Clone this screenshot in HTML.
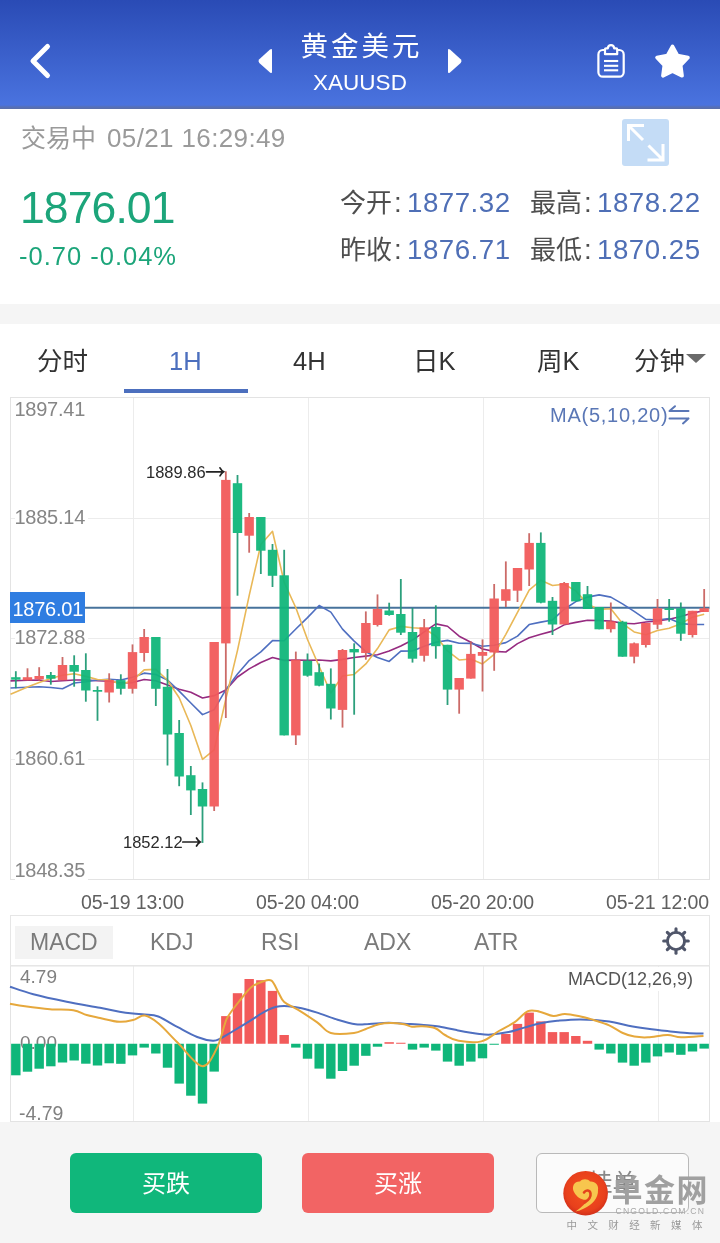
<!DOCTYPE html>
<html lang="zh-CN">
<head>
<meta charset="utf-8">
<title>黄金美元 XAUUSD</title>
<style>
*{margin:0;padding:0;box-sizing:border-box;}
html,body{width:720px;height:1243px;overflow:hidden;background:#fff;}
body{position:relative;font-family:"Liberation Sans","Noto Sans CJK SC",sans-serif;}
.a{position:absolute;white-space:nowrap;line-height:1;}
#hdr{position:absolute;left:0;top:0;width:720px;height:109px;background:linear-gradient(#2a4bb5 0px,#4a73df 105px,#5670b8 107px,#5a6ea8 109px);}
#hdr .t1{left:0;width:720px;text-align:center;top:32.9px;font-size:27.5px;letter-spacing:3px;text-indent:3px;color:#fff;}
#hdr .t2{left:0;width:720px;text-align:center;top:72px;font-size:22.5px;color:#fff;}
.grey{color:#9a9a9a;}
.lbl{color:#4e4e4e;}
.val{color:#4f6fb6;}
.tab{top:348.5px;font-size:25.5px;color:#333;}
.yl{font-size:20px;letter-spacing:-0.25px;color:#868686;background:#fff;padding-right:3px;}
.xl{font-size:19.5px;color:#606060;top:892.5px;letter-spacing:-0.1px;}
.mt{font-size:23px;color:#7a7a7a;top:931px;}
.btn{position:absolute;top:1153px;height:59.5px;border-radius:6px;color:#fff;font-size:24px;text-align:center;line-height:61px;}
</style>
</head>
<body>
<div id="hdr">
  <svg class="a" style="left:0;top:0" width="720" height="108" viewBox="0 0 720 108">
    <polyline points="47.5,46.5 33,61 47.5,75.5" fill="none" stroke="#fff" stroke-width="5" stroke-linecap="round" stroke-linejoin="round"/>
    <path d="M272,50.2 L272,71.8 Q272,73.8 270,72.4 L259.3,62.9 Q257.6,61 259.3,59.3 L270,49.6 Q272,48.2 272,50.2 Z" fill="#fff"/>
    <path d="M448,50.2 L448,71.8 Q448,73.8 450,72.4 L460.7,62.9 Q462.4,61 460.7,59.3 L450,49.6 Q448,48.2 448,50.2 Z" fill="#fff"/>
    <rect x="598.4" y="50" width="25.3" height="26.7" rx="4.5" fill="none" stroke="#fff" stroke-width="2.2"/>
    <path d="M605,54.2 L605,49.2 Q605,48.3 606,48.3 L607.8,48.3 Q608.2,45.2 611,45.2 Q613.8,45.2 614.2,48.3 L616.2,48.3 Q617.2,48.3 617.2,49.2 L617.2,54.2 Z" fill="#3c5fcb" stroke="#fff" stroke-width="2.2" stroke-linejoin="round"/>
    <line x1="604" y1="61" x2="618.2" y2="61" stroke="#fff" stroke-width="2.1"/>
    <line x1="604" y1="65.8" x2="618.2" y2="65.8" stroke="#fff" stroke-width="2.1"/>
    <line x1="604" y1="70.3" x2="618.2" y2="70.3" stroke="#fff" stroke-width="2.1"/>
    <polygon points="672.50,46.30 677.55,55.64 688.00,57.56 680.68,65.26 682.08,75.79 672.50,71.20 662.92,75.79 664.32,65.26 657.00,57.56 667.45,55.64" fill="#fff" stroke="#fff" stroke-width="3.6" stroke-linejoin="round"/>
  </svg>
  <div class="a t1">黄金美元</div>
  <div class="a t2">XAUUSD</div>
</div>

<div class="a grey" style="left:21px;top:126px;font-size:25px;">交易中</div>
<div class="a grey" id="tm" style="left:107px;top:125px;font-size:26px;letter-spacing:0.37px;">05/21 16:29:49</div>
<svg class="a" style="left:622px;top:119px" width="48" height="48" viewBox="0 0 48 48">
  <rect x="0" y="0" width="47" height="47" rx="3" fill="#c4dcf6"/>
  <path d="M6.5,22 L6.5,6.5 L22,6.5 M6.5,6.5 L21,21" fill="none" stroke="#fff" stroke-width="3"/>
  <path d="M41,25 L41,41 L25.5,41 M41,41 L26.5,26.5" fill="none" stroke="#fff" stroke-width="3"/>
</svg>

<div class="a" style="left:20px;top:186px;font-size:44.5px;color:#1ca57a;letter-spacing:-0.9px;">1876.01</div>
<div class="a" style="left:19px;top:244px;font-size:25.5px;color:#1ca57a;letter-spacing:1.0px;">-0.70 -0.04%</div>

<div class="a lbl" style="left:340px;top:190px;font-size:26px;">今开</div><div class="a lbl" style="left:394px;top:189px;font-size:27.7px;">:</div><div class="a val" style="left:407px;top:189px;font-size:27.7px;letter-spacing:0.5px;">1877.32</div>
<div class="a lbl" style="left:530px;top:190px;font-size:26px;">最高</div><div class="a lbl" style="left:584px;top:189px;font-size:27.7px;">:</div><div class="a val" style="left:597px;top:189px;font-size:27.7px;letter-spacing:0.5px;">1878.22</div>
<div class="a lbl" style="left:340px;top:237px;font-size:26px;">昨收</div><div class="a lbl" style="left:394px;top:236px;font-size:27.7px;">:</div><div class="a val" style="left:407px;top:236px;font-size:27.7px;letter-spacing:0.5px;">1876.71</div>
<div class="a lbl" style="left:530px;top:237px;font-size:26px;">最低</div><div class="a lbl" style="left:584px;top:236px;font-size:27.7px;">:</div><div class="a val" style="left:597px;top:236px;font-size:27.7px;letter-spacing:0.5px;">1870.25</div>

<div class="a" style="left:0;top:304px;width:720px;height:20px;background:#f5f5f5;"></div>

<div class="a tab" style="left:37px;">分时</div>
<div class="a tab" style="left:169px;color:#4c6fbe;">1H</div>
<div class="a tab" style="left:293px;">4H</div>
<div class="a tab" style="left:413px;">日K</div>
<div class="a tab" style="left:537px;">周K</div>
<div class="a tab" style="left:634px;">分钟</div>
<svg class="a" style="left:686px;top:354px" width="21" height="10" viewBox="0 0 21 10"><path d="M0,0 L20,0 L10,9 Z" fill="#6a6a6a"/></svg>
<div class="a" style="left:124px;top:389px;width:124px;height:4px;background:#4c6fbe;"></div>

<div class="a" style="left:20px;top:1033.3px;font-size:19px;color:#808080;">0.00</div>
<svg class="a" style="left:0;top:0" width="720" height="1243" viewBox="0 0 720 1243">
<g stroke="#ececec" stroke-width="1" fill="none">
<line x1="10.5" y1="518.5" x2="709.5" y2="518.5"/>
<line x1="10.5" y1="638.5" x2="709.5" y2="638.5"/>
<line x1="10.5" y1="759.5" x2="709.5" y2="759.5"/>
<line x1="133.5" y1="397.5" x2="133.5" y2="879.5"/>
<line x1="133.5" y1="966" x2="133.5" y2="1121"/>
<line x1="308.5" y1="397.5" x2="308.5" y2="879.5"/>
<line x1="308.5" y1="966" x2="308.5" y2="1121"/>
<line x1="483.5" y1="397.5" x2="483.5" y2="879.5"/>
<line x1="483.5" y1="966" x2="483.5" y2="1121"/>
<line x1="658.5" y1="397.5" x2="658.5" y2="879.5"/>
<line x1="658.5" y1="966" x2="658.5" y2="1121"/>
</g>
<rect x="10.5" y="397.5" width="699" height="482" fill="none" stroke="#e3e3e3" stroke-width="1"/>
<line x1="85" y1="607.8" x2="709.5" y2="607.8" stroke="#47739c" stroke-width="1.9"/>
<polyline points="10.50,680.88 15.83,680.70 27.50,680.30 39.17,680.00 50.83,681.50 62.50,680.80 74.17,680.00 85.83,680.00 97.50,680.80 109.17,681.20 120.83,683.00 132.50,682.60 144.17,679.50 155.83,680.70 167.50,685.00 179.17,689.20 190.83,692.30 202.50,698.00 214.17,695.60 225.83,690.00 237.50,677.00 249.17,668.87 260.83,662.54 272.50,657.53 284.17,660.37 295.83,660.10 307.50,660.30 319.17,660.06 330.83,660.90 342.50,659.40 354.17,657.58 365.83,656.12 377.50,654.73 389.17,651.04 400.83,645.94 412.50,640.06 424.17,631.90 435.83,623.88 447.50,626.26 459.17,636.17 470.83,642.21 482.50,648.96 494.17,651.36 505.83,652.02 517.50,643.65 529.17,637.81 540.83,634.17 552.50,631.11 564.17,624.83 575.83,622.40 587.50,620.23 599.17,620.54 610.83,621.16 622.50,623.25 634.17,623.77 645.83,621.99 657.50,621.04 669.17,619.23 680.83,616.44 692.50,613.08 704.17,610.79" fill="none" stroke="#962b80" stroke-width="1.6" stroke-linejoin="round"/>
<polyline points="10.50,688.03 15.83,687.80 27.50,687.30 39.17,686.70 50.83,687.50 62.50,688.70 74.17,683.00 85.83,681.80 97.50,680.00 109.17,679.20 120.83,679.93 132.50,677.17 144.17,673.15 155.83,674.43 167.50,680.01 179.17,691.16 190.83,703.03 202.50,714.63 214.17,709.66 225.83,689.65 237.50,674.07 249.17,660.56 260.83,651.93 272.50,640.63 284.17,640.72 295.83,629.04 307.50,617.57 319.17,605.49 330.83,612.14 342.50,629.15 354.17,641.09 365.83,651.69 377.50,657.52 389.17,661.44 400.83,651.17 412.50,651.07 424.17,646.23 435.83,642.28 447.50,640.39 459.17,643.19 470.83,643.34 482.50,646.24 494.17,645.19 505.83,642.61 517.50,636.14 529.17,624.56 540.83,622.10 552.50,619.93 564.17,609.27 575.83,601.61 587.50,597.12 599.17,594.85 610.83,597.13 622.50,603.88 634.17,611.41 645.83,619.42 657.50,619.98 669.17,618.53 680.83,623.60 692.50,624.54 704.17,624.47" fill="none" stroke="#4f6fc0" stroke-width="1.6" stroke-linejoin="round"/>
<polyline points="10.50,694.29 15.83,692.00 27.50,687.00 39.17,682.50 50.83,678.50 62.50,675.32 74.17,673.72 85.83,676.38 97.50,679.52 109.17,679.78 120.83,684.54 132.50,680.62 144.17,669.92 155.83,669.34 167.50,680.24 179.17,697.78 190.83,725.44 202.50,759.34 214.17,749.98 225.83,699.06 237.50,650.36 249.17,595.68 260.83,544.52 272.50,531.28 284.17,582.38 295.83,607.72 307.50,639.46 319.17,666.46 330.83,693.00 342.50,675.92 354.17,674.46 365.83,663.92 377.50,648.58 389.17,629.88 400.83,626.42 412.50,627.68 424.17,628.54 435.83,635.98 447.50,650.90 459.17,659.96 470.83,659.00 482.50,663.94 494.17,654.40 505.83,634.32 517.50,612.32 529.17,590.12 540.83,580.26 552.50,585.46 564.17,584.22 575.83,590.90 587.50,604.12 599.17,609.44 610.83,608.80 622.50,623.54 634.17,631.92 645.83,634.72 657.50,630.52 669.17,628.26 680.83,623.66 692.50,617.16 704.17,614.22" fill="none" stroke="#e9b857" stroke-width="1.6" stroke-linejoin="round"/>
<g opacity="0.94">
<line x1="15.83" y1="671.2" x2="15.83" y2="688.3" stroke="#1f9a74" stroke-width="1.8"/>
<rect x="11.13" y="677.2" width="9.4" height="2.50" fill="#0fb67a"/>
<line x1="27.50" y1="668.3" x2="27.50" y2="680.3" stroke="#c8625f" stroke-width="1.8"/>
<rect x="22.80" y="677.2" width="9.4" height="3.10" fill="#f25a5a"/>
<line x1="39.17" y1="667.2" x2="39.17" y2="680.8" stroke="#c8625f" stroke-width="1.8"/>
<rect x="34.47" y="676" width="9.4" height="3.30" fill="#f25a5a"/>
<line x1="50.83" y1="672" x2="50.83" y2="684.7" stroke="#1f9a74" stroke-width="1.8"/>
<rect x="46.13" y="675" width="9.4" height="3.70" fill="#0fb67a"/>
<line x1="62.50" y1="657" x2="62.50" y2="680.3" stroke="#c8625f" stroke-width="1.8"/>
<rect x="57.80" y="665" width="9.4" height="15.30" fill="#f25a5a"/>
<line x1="74.17" y1="655.3" x2="74.17" y2="686.7" stroke="#1f9a74" stroke-width="1.8"/>
<rect x="69.47" y="665" width="9.4" height="6.70" fill="#0fb67a"/>
<line x1="85.83" y1="653.3" x2="85.83" y2="701.7" stroke="#1f9a74" stroke-width="1.8"/>
<rect x="81.13" y="670" width="9.4" height="20.50" fill="#0fb67a"/>
<line x1="97.50" y1="686.3" x2="97.50" y2="720.8" stroke="#1f9a74" stroke-width="1.8"/>
<rect x="92.80" y="690" width="9.4" height="1.70" fill="#0fb67a"/>
<line x1="109.17" y1="673.3" x2="109.17" y2="702.5" stroke="#c8625f" stroke-width="1.8"/>
<rect x="104.47" y="680" width="9.4" height="12.50" fill="#f25a5a"/>
<line x1="120.83" y1="674.3" x2="120.83" y2="694.6" stroke="#1f9a74" stroke-width="1.8"/>
<rect x="116.13" y="680.1" width="9.4" height="8.70" fill="#0fb67a"/>
<line x1="132.50" y1="644.4" x2="132.50" y2="693.6" stroke="#c8625f" stroke-width="1.8"/>
<rect x="127.80" y="652.1" width="9.4" height="36.70" fill="#f25a5a"/>
<line x1="144.17" y1="629" x2="144.17" y2="661.7" stroke="#c8625f" stroke-width="1.8"/>
<rect x="139.47" y="637" width="9.4" height="16.00" fill="#f25a5a"/>
<line x1="155.83" y1="637" x2="155.83" y2="706" stroke="#1f9a74" stroke-width="1.8"/>
<rect x="151.13" y="637" width="9.4" height="51.80" fill="#0fb67a"/>
<line x1="167.50" y1="669" x2="167.50" y2="765.5" stroke="#1f9a74" stroke-width="1.8"/>
<rect x="162.80" y="686.8" width="9.4" height="47.70" fill="#0fb67a"/>
<line x1="179.17" y1="720" x2="179.17" y2="786.2" stroke="#1f9a74" stroke-width="1.8"/>
<rect x="174.47" y="733" width="9.4" height="43.50" fill="#0fb67a"/>
<line x1="190.83" y1="766" x2="190.83" y2="815" stroke="#1f9a74" stroke-width="1.8"/>
<rect x="186.13" y="775.2" width="9.4" height="15.20" fill="#0fb67a"/>
<line x1="202.50" y1="782.4" x2="202.50" y2="842.9" stroke="#1f9a74" stroke-width="1.8"/>
<rect x="197.80" y="789" width="9.4" height="17.50" fill="#0fb67a"/>
<line x1="214.17" y1="642" x2="214.17" y2="811" stroke="#c8625f" stroke-width="1.8"/>
<rect x="209.47" y="642" width="9.4" height="164.50" fill="#f25a5a"/>
<line x1="225.83" y1="471.3" x2="225.83" y2="718" stroke="#c8625f" stroke-width="1.8"/>
<rect x="221.13" y="479.9" width="9.4" height="163.50" fill="#f25a5a"/>
<line x1="237.50" y1="475" x2="237.50" y2="595.7" stroke="#1f9a74" stroke-width="1.8"/>
<rect x="232.80" y="483.2" width="9.4" height="49.80" fill="#0fb67a"/>
<line x1="249.17" y1="513" x2="249.17" y2="552.7" stroke="#c8625f" stroke-width="1.8"/>
<rect x="244.47" y="517" width="9.4" height="18.70" fill="#f25a5a"/>
<line x1="260.83" y1="517" x2="260.83" y2="574" stroke="#1f9a74" stroke-width="1.8"/>
<rect x="256.13" y="517" width="9.4" height="33.70" fill="#0fb67a"/>
<line x1="272.50" y1="544" x2="272.50" y2="587" stroke="#1f9a74" stroke-width="1.8"/>
<rect x="267.80" y="549.8" width="9.4" height="26.00" fill="#0fb67a"/>
<line x1="284.17" y1="549.8" x2="284.17" y2="735.4" stroke="#1f9a74" stroke-width="1.8"/>
<rect x="279.47" y="575.3" width="9.4" height="160.10" fill="#0fb67a"/>
<line x1="295.83" y1="651.6" x2="295.83" y2="745" stroke="#c8625f" stroke-width="1.8"/>
<rect x="291.13" y="659.7" width="9.4" height="75.70" fill="#f25a5a"/>
<line x1="307.50" y1="653.5" x2="307.50" y2="676.7" stroke="#1f9a74" stroke-width="1.8"/>
<rect x="302.80" y="660.7" width="9.4" height="15.00" fill="#0fb67a"/>
<line x1="319.17" y1="663.5" x2="319.17" y2="686.3" stroke="#1f9a74" stroke-width="1.8"/>
<rect x="314.47" y="672.2" width="9.4" height="13.50" fill="#0fb67a"/>
<line x1="330.83" y1="668.4" x2="330.83" y2="719.5" stroke="#1f9a74" stroke-width="1.8"/>
<rect x="326.13" y="683.8" width="9.4" height="24.70" fill="#0fb67a"/>
<line x1="342.50" y1="649" x2="342.50" y2="727.6" stroke="#c8625f" stroke-width="1.8"/>
<rect x="337.80" y="650" width="9.4" height="59.90" fill="#f25a5a"/>
<line x1="354.17" y1="643.3" x2="354.17" y2="714.7" stroke="#1f9a74" stroke-width="1.8"/>
<rect x="349.47" y="649" width="9.4" height="3.40" fill="#0fb67a"/>
<line x1="365.83" y1="611.4" x2="365.83" y2="659.7" stroke="#c8625f" stroke-width="1.8"/>
<rect x="361.13" y="623" width="9.4" height="30.00" fill="#f25a5a"/>
<line x1="377.50" y1="594.4" x2="377.50" y2="626.5" stroke="#c8625f" stroke-width="1.8"/>
<rect x="372.80" y="609" width="9.4" height="16.00" fill="#f25a5a"/>
<line x1="389.17" y1="602.7" x2="389.17" y2="615.7" stroke="#1f9a74" stroke-width="1.8"/>
<rect x="384.47" y="610.5" width="9.4" height="4.50" fill="#0fb67a"/>
<line x1="400.83" y1="579" x2="400.83" y2="635" stroke="#1f9a74" stroke-width="1.8"/>
<rect x="396.13" y="614" width="9.4" height="18.70" fill="#0fb67a"/>
<line x1="412.50" y1="608" x2="412.50" y2="662.6" stroke="#1f9a74" stroke-width="1.8"/>
<rect x="407.80" y="632" width="9.4" height="26.70" fill="#0fb67a"/>
<line x1="424.17" y1="619" x2="424.17" y2="661.6" stroke="#c8625f" stroke-width="1.8"/>
<rect x="419.47" y="627.3" width="9.4" height="28.50" fill="#f25a5a"/>
<line x1="435.83" y1="605.3" x2="435.83" y2="658.7" stroke="#1f9a74" stroke-width="1.8"/>
<rect x="431.13" y="627" width="9.4" height="19.20" fill="#0fb67a"/>
<line x1="447.50" y1="644.8" x2="447.50" y2="705" stroke="#1f9a74" stroke-width="1.8"/>
<rect x="442.80" y="644.8" width="9.4" height="44.80" fill="#0fb67a"/>
<line x1="459.17" y1="678" x2="459.17" y2="713.7" stroke="#c8625f" stroke-width="1.8"/>
<rect x="454.47" y="678" width="9.4" height="11.60" fill="#f25a5a"/>
<line x1="470.83" y1="641.4" x2="470.83" y2="678.6" stroke="#c8625f" stroke-width="1.8"/>
<rect x="466.13" y="653.9" width="9.4" height="24.70" fill="#f25a5a"/>
<line x1="482.50" y1="639.4" x2="482.50" y2="691.5" stroke="#c8625f" stroke-width="1.8"/>
<rect x="477.80" y="652" width="9.4" height="3.80" fill="#f25a5a"/>
<line x1="494.17" y1="584" x2="494.17" y2="670.8" stroke="#c8625f" stroke-width="1.8"/>
<rect x="489.47" y="598.5" width="9.4" height="54.00" fill="#f25a5a"/>
<line x1="505.83" y1="561.4" x2="505.83" y2="607" stroke="#c8625f" stroke-width="1.8"/>
<rect x="501.13" y="589.2" width="9.4" height="11.60" fill="#f25a5a"/>
<line x1="517.50" y1="568" x2="517.50" y2="602" stroke="#c8625f" stroke-width="1.8"/>
<rect x="512.80" y="568" width="9.4" height="22.70" fill="#f25a5a"/>
<line x1="529.17" y1="533.2" x2="529.17" y2="586" stroke="#c8625f" stroke-width="1.8"/>
<rect x="524.47" y="542.9" width="9.4" height="26.60" fill="#f25a5a"/>
<line x1="540.83" y1="532.4" x2="540.83" y2="603.3" stroke="#1f9a74" stroke-width="1.8"/>
<rect x="536.13" y="542.9" width="9.4" height="59.80" fill="#0fb67a"/>
<line x1="552.50" y1="597" x2="552.50" y2="635" stroke="#1f9a74" stroke-width="1.8"/>
<rect x="547.80" y="600.8" width="9.4" height="23.70" fill="#0fb67a"/>
<line x1="564.17" y1="582" x2="564.17" y2="624.5" stroke="#c8625f" stroke-width="1.8"/>
<rect x="559.47" y="583" width="9.4" height="41.50" fill="#f25a5a"/>
<line x1="575.83" y1="582" x2="575.83" y2="601.4" stroke="#1f9a74" stroke-width="1.8"/>
<rect x="571.13" y="582" width="9.4" height="19.40" fill="#0fb67a"/>
<line x1="587.50" y1="586" x2="587.50" y2="609" stroke="#1f9a74" stroke-width="1.8"/>
<rect x="582.80" y="594.2" width="9.4" height="14.80" fill="#0fb67a"/>
<line x1="599.17" y1="607" x2="599.17" y2="629.3" stroke="#1f9a74" stroke-width="1.8"/>
<rect x="594.47" y="607" width="9.4" height="22.30" fill="#0fb67a"/>
<line x1="610.83" y1="602.5" x2="610.83" y2="632.5" stroke="#c8625f" stroke-width="1.8"/>
<rect x="606.13" y="621.3" width="9.4" height="7.90" fill="#f25a5a"/>
<line x1="622.50" y1="620.8" x2="622.50" y2="656.7" stroke="#1f9a74" stroke-width="1.8"/>
<rect x="617.80" y="621.7" width="9.4" height="35.00" fill="#0fb67a"/>
<line x1="634.17" y1="642.5" x2="634.17" y2="663.3" stroke="#c8625f" stroke-width="1.8"/>
<rect x="629.47" y="643.3" width="9.4" height="13.40" fill="#f25a5a"/>
<line x1="645.83" y1="623" x2="645.83" y2="647.5" stroke="#c8625f" stroke-width="1.8"/>
<rect x="641.13" y="623" width="9.4" height="22.00" fill="#f25a5a"/>
<line x1="657.50" y1="599" x2="657.50" y2="629.2" stroke="#c8625f" stroke-width="1.8"/>
<rect x="652.80" y="608.3" width="9.4" height="16.40" fill="#f25a5a"/>
<line x1="669.17" y1="599" x2="669.17" y2="621.7" stroke="#1f9a74" stroke-width="1.8"/>
<rect x="664.47" y="608.3" width="9.4" height="1.70" fill="#0fb67a"/>
<line x1="680.83" y1="602.5" x2="680.83" y2="640.8" stroke="#1f9a74" stroke-width="1.8"/>
<rect x="676.13" y="608.3" width="9.4" height="25.40" fill="#0fb67a"/>
<line x1="692.50" y1="610.8" x2="692.50" y2="637.5" stroke="#c8625f" stroke-width="1.8"/>
<rect x="687.80" y="610.8" width="9.4" height="24.20" fill="#f25a5a"/>
<line x1="704.17" y1="589" x2="704.17" y2="612" stroke="#c8625f" stroke-width="1.8"/>
<rect x="699.47" y="608.3" width="9.4" height="3.70" fill="#f25a5a"/>
</g>
<rect x="10.5" y="966" width="699" height="155.5" fill="none" stroke="#e3e3e3" stroke-width="1"/>
<rect x="11.13" y="1043.75" width="9.4" height="31.55" fill="#0fb67a"/>
<rect x="22.80" y="1043.75" width="9.4" height="27.95" fill="#0fb67a"/>
<rect x="34.47" y="1043.75" width="9.4" height="24.95" fill="#0fb67a"/>
<rect x="46.13" y="1043.75" width="9.4" height="22.55" fill="#0fb67a"/>
<rect x="57.80" y="1043.75" width="9.4" height="18.75" fill="#0fb67a"/>
<rect x="69.47" y="1043.75" width="9.4" height="16.75" fill="#0fb67a"/>
<rect x="81.13" y="1043.75" width="9.4" height="19.95" fill="#0fb67a"/>
<rect x="92.80" y="1043.75" width="9.4" height="21.75" fill="#0fb67a"/>
<rect x="104.47" y="1043.75" width="9.4" height="19.55" fill="#0fb67a"/>
<rect x="116.13" y="1043.75" width="9.4" height="20.05" fill="#0fb67a"/>
<rect x="127.80" y="1043.75" width="9.4" height="11.65" fill="#0fb67a"/>
<rect x="139.47" y="1043.75" width="9.4" height="3.85" fill="#0fb67a"/>
<rect x="151.13" y="1043.75" width="9.4" height="9.75" fill="#0fb67a"/>
<rect x="162.80" y="1043.75" width="9.4" height="23.95" fill="#0fb67a"/>
<rect x="174.47" y="1043.75" width="9.4" height="39.85" fill="#0fb67a"/>
<rect x="186.13" y="1043.75" width="9.4" height="51.95" fill="#0fb67a"/>
<rect x="197.80" y="1043.75" width="9.4" height="59.85" fill="#0fb67a"/>
<rect x="209.47" y="1043.75" width="9.4" height="27.85" fill="#0fb67a"/>
<rect x="221.13" y="1016.10" width="9.4" height="27.65" fill="#f25a5a"/>
<rect x="232.80" y="993.20" width="9.4" height="50.55" fill="#f25a5a"/>
<rect x="244.47" y="979.00" width="9.4" height="64.75" fill="#f25a5a"/>
<rect x="256.13" y="980.20" width="9.4" height="63.55" fill="#f25a5a"/>
<rect x="267.80" y="990.90" width="9.4" height="52.85" fill="#f25a5a"/>
<rect x="279.47" y="1035.00" width="9.4" height="8.75" fill="#f25a5a"/>
<rect x="291.13" y="1043.75" width="9.4" height="3.85" fill="#0fb67a"/>
<rect x="302.80" y="1043.75" width="9.4" height="14.95" fill="#0fb67a"/>
<rect x="314.47" y="1043.75" width="9.4" height="24.85" fill="#0fb67a"/>
<rect x="326.13" y="1043.75" width="9.4" height="34.95" fill="#0fb67a"/>
<rect x="337.80" y="1043.75" width="9.4" height="27.25" fill="#0fb67a"/>
<rect x="349.47" y="1043.75" width="9.4" height="21.95" fill="#0fb67a"/>
<rect x="361.13" y="1043.75" width="9.4" height="12.05" fill="#0fb67a"/>
<rect x="372.80" y="1043.75" width="9.4" height="2.95" fill="#0fb67a"/>
<rect x="384.47" y="1042.20" width="9.4" height="1.55" fill="#f25a5a"/>
<rect x="396.13" y="1042.75" width="9.4" height="1.00" fill="#f25a5a"/>
<rect x="407.80" y="1043.75" width="9.4" height="5.85" fill="#0fb67a"/>
<rect x="419.47" y="1043.75" width="9.4" height="3.85" fill="#0fb67a"/>
<rect x="431.13" y="1043.75" width="9.4" height="6.85" fill="#0fb67a"/>
<rect x="442.80" y="1043.75" width="9.4" height="17.85" fill="#0fb67a"/>
<rect x="454.47" y="1043.75" width="9.4" height="21.95" fill="#0fb67a"/>
<rect x="466.13" y="1043.75" width="9.4" height="17.85" fill="#0fb67a"/>
<rect x="477.80" y="1043.75" width="9.4" height="14.55" fill="#0fb67a"/>
<rect x="489.47" y="1043.75" width="9.4" height="1.00" fill="#0fb67a"/>
<rect x="501.13" y="1034.00" width="9.4" height="9.75" fill="#f25a5a"/>
<rect x="512.80" y="1023.90" width="9.4" height="19.85" fill="#f25a5a"/>
<rect x="524.47" y="1012.60" width="9.4" height="31.15" fill="#f25a5a"/>
<rect x="536.13" y="1021.40" width="9.4" height="22.35" fill="#f25a5a"/>
<rect x="547.80" y="1032.10" width="9.4" height="11.65" fill="#f25a5a"/>
<rect x="559.47" y="1032.10" width="9.4" height="11.65" fill="#f25a5a"/>
<rect x="571.13" y="1036.00" width="9.4" height="7.75" fill="#f25a5a"/>
<rect x="582.80" y="1040.80" width="9.4" height="2.95" fill="#f25a5a"/>
<rect x="594.47" y="1043.75" width="9.4" height="5.85" fill="#0fb67a"/>
<rect x="606.13" y="1043.75" width="9.4" height="9.75" fill="#0fb67a"/>
<rect x="617.80" y="1043.75" width="9.4" height="18.85" fill="#0fb67a"/>
<rect x="629.47" y="1043.75" width="9.4" height="21.95" fill="#0fb67a"/>
<rect x="641.13" y="1043.75" width="9.4" height="18.85" fill="#0fb67a"/>
<rect x="652.80" y="1043.75" width="9.4" height="12.65" fill="#0fb67a"/>
<rect x="664.47" y="1043.75" width="9.4" height="8.75" fill="#0fb67a"/>
<rect x="676.13" y="1043.75" width="9.4" height="11.05" fill="#0fb67a"/>
<rect x="687.80" y="1043.75" width="9.4" height="7.75" fill="#0fb67a"/>
<rect x="699.47" y="1043.75" width="9.4" height="4.85" fill="#0fb67a"/>
<path d="M10.00,986.70 C13.96,987.98 23.66,991.65 33.30,994.20 C42.94,996.75 55.36,999.39 66.70,1001.70 C78.04,1004.01 91.04,1006.10 100.00,1007.80 C108.96,1009.50 113.79,1010.71 119.40,1011.70 C125.01,1012.69 128.70,1013.11 133.00,1013.60 C137.30,1014.09 140.40,1014.11 144.70,1014.60 C149.00,1015.09 152.67,1014.36 158.30,1016.50 C163.93,1018.64 171.19,1023.72 177.80,1027.20 C184.41,1030.68 191.25,1034.69 197.20,1037.00 C203.15,1039.31 208.82,1040.54 212.80,1040.80 C216.78,1041.06 217.39,1040.00 220.60,1038.50 C223.81,1037.00 226.84,1034.91 231.70,1032.00 C236.56,1029.09 243.59,1024.85 249.20,1021.40 C254.81,1017.95 260.08,1014.18 264.70,1011.70 C269.32,1009.22 272.44,1007.73 276.40,1006.80 C280.36,1005.87 283.70,1005.96 288.00,1006.20 C292.30,1006.44 296.74,1007.11 301.70,1008.20 C306.66,1009.29 311.25,1010.70 317.20,1012.60 C323.15,1014.50 330.17,1017.43 336.70,1019.40 C343.23,1021.37 350.08,1023.44 355.60,1024.20 C361.12,1024.97 363.59,1024.15 369.20,1023.90 C374.81,1023.64 382.65,1022.73 388.60,1022.70 C394.55,1022.67 398.25,1023.33 404.20,1023.70 C410.15,1024.07 417.99,1024.48 423.60,1024.90 C429.21,1025.33 431.57,1025.32 437.20,1026.20 C442.83,1027.08 449.53,1028.77 456.70,1030.10 C463.87,1031.43 473.55,1033.23 479.40,1034.00 C485.25,1034.77 486.14,1034.92 491.10,1034.60 C496.06,1034.28 502.97,1033.29 508.60,1032.10 C514.23,1030.91 518.57,1029.15 524.20,1027.60 C529.83,1026.05 536.09,1024.16 541.70,1023.00 C547.31,1021.84 550.59,1021.41 557.20,1020.80 C563.81,1020.19 571.76,1019.30 580.60,1019.40 C589.44,1019.50 601.04,1020.33 609.20,1021.40 C617.36,1022.47 622.00,1024.44 628.60,1025.70 C635.20,1026.96 641.39,1027.88 648.00,1028.80 C654.61,1029.72 660.87,1030.39 667.50,1031.10 C674.13,1031.81 680.88,1032.58 687.00,1033.00 C693.12,1033.42 700.70,1033.50 703.50,1033.60" fill="none" stroke="#4f6fc0" stroke-width="2" stroke-linejoin="round"/>
<path d="M10.00,1003.70 C12.55,1004.14 18.20,1005.37 25.00,1006.30 C31.80,1007.23 41.79,1008.52 50.00,1009.20 C58.21,1009.88 67.06,1009.31 73.30,1010.30 C79.54,1011.29 82.16,1013.69 86.70,1015.00 C91.24,1016.31 94.44,1016.84 100.00,1018.00 C105.56,1019.16 113.79,1021.46 119.40,1021.80 C125.01,1022.14 128.70,1021.05 133.00,1020.00 C137.30,1018.95 140.40,1015.04 144.70,1015.60 C149.00,1016.16 152.67,1018.68 158.30,1023.30 C163.93,1027.92 170.37,1035.52 177.80,1042.80 C185.23,1050.08 195.39,1065.11 202.00,1066.10 C208.61,1067.09 212.89,1055.54 216.70,1048.60 C220.51,1041.66 222.48,1030.76 224.40,1025.30 C226.32,1019.84 225.45,1020.63 228.00,1016.50 C230.55,1012.37 235.49,1005.95 239.40,1001.00 C243.31,996.05 247.02,990.72 251.00,987.40 C254.98,984.08 259.31,982.66 262.80,981.50 C266.29,980.34 268.87,978.78 271.50,980.60 C274.13,982.42 276.14,988.56 278.30,992.20 C280.46,995.84 280.88,999.02 284.20,1002.00 C287.51,1004.98 292.19,1006.23 297.80,1009.70 C303.41,1013.17 311.59,1018.44 317.20,1022.40 C322.81,1026.36 324.54,1031.20 330.80,1033.00 C337.06,1034.80 348.13,1033.65 354.00,1033.00 C359.87,1032.35 361.07,1030.68 365.30,1029.20 C369.53,1027.72 374.60,1025.35 378.90,1024.30 C383.20,1023.25 386.30,1023.00 390.60,1023.00 C394.90,1023.00 400.56,1023.65 404.20,1024.30 C407.84,1024.95 409.02,1026.48 412.00,1026.80 C414.98,1027.12 417.74,1025.96 421.70,1026.20 C425.66,1026.44 431.34,1026.70 435.30,1028.20 C439.26,1029.70 441.04,1032.86 445.00,1035.00 C448.96,1037.14 452.41,1039.71 458.60,1040.80 C464.79,1041.89 474.55,1043.07 481.40,1041.40 C488.25,1039.73 493.29,1034.23 498.90,1031.00 C504.51,1027.77 509.45,1025.78 514.40,1022.40 C519.35,1019.02 523.70,1012.92 528.00,1011.10 C532.30,1009.28 535.40,1010.87 539.70,1011.70 C544.00,1012.53 549.00,1015.61 553.30,1016.00 C557.60,1016.39 560.36,1013.91 565.00,1014.00 C569.64,1014.09 576.06,1015.58 580.60,1016.50 C585.14,1017.42 586.84,1017.90 591.70,1019.40 C596.56,1020.90 603.91,1022.99 609.20,1025.30 C614.49,1027.61 618.52,1031.08 622.80,1033.00 C627.08,1034.92 630.12,1035.87 634.40,1036.60 C638.68,1037.33 642.37,1037.57 648.00,1037.30 C653.63,1037.03 661.87,1035.00 667.50,1035.00 C673.13,1035.00 674.98,1037.13 681.10,1037.30 C687.22,1037.47 699.69,1036.22 703.50,1036.00" fill="none" stroke="#e6a83c" stroke-width="2" stroke-linejoin="round"/>
</svg>

<div class="a yl" style="left:14.5px;top:398.5px;">1897.41</div>
<div class="a yl" style="left:14.5px;top:506.5px;">1885.14</div>
<div class="a" style="left:10px;top:592px;width:75px;height:31px;background:#2f7de1;"></div>
<div class="a yl" style="left:12.5px;top:599px;color:#fff;background:none;">1876.01</div>
<div class="a yl" style="left:14.5px;top:627px;">1872.88</div>
<div class="a yl" style="left:14.5px;top:747.5px;">1860.61</div>
<div class="a yl" style="left:14.5px;top:859.5px;">1848.35</div>
<div class="a" style="left:548px;top:398px;width:144px;height:32px;background:#fff;"></div>
<div class="a" style="left:550px;top:405px;font-size:20px;letter-spacing:0.75px;color:#5a77b6;">MA(5,10,20)</div>
<svg class="a" style="left:666px;top:403px" width="26" height="24" viewBox="666 403 26 24"><path d="M669.5,411 L688.5,411 M669.5,411 L675,406.2 M669.5,418.6 L688.5,418.6 M688.5,418.6 L683,423.4" fill="none" stroke="#5a77b6" stroke-width="2" stroke-linecap="round"/></svg>
<div class="a" style="left:146px;top:463.5px;font-size:16.5px;color:#2a2a2a;">1889.86</div>
<svg class="a" style="left:200px;top:460px" width="30" height="25" viewBox="200 460 30 25"><path d="M206.5,471.8 L223,471.8 M220,467.8 Q221.5,470.5 223.6,471.8 Q221.5,473 220,475.8" fill="none" stroke="#222" stroke-width="1.7" stroke-linecap="round"/></svg>
<div class="a" style="left:123px;top:833.5px;font-size:16.5px;color:#2a2a2a;">1852.12</div>
<svg class="a" style="left:178px;top:830px" width="30" height="25" viewBox="178 830 30 25"><path d="M182.8,842 L199.5,842 M196.5,838 Q198,840.7 200.2,842 Q198,843.3 196.5,846" fill="none" stroke="#222" stroke-width="1.7" stroke-linecap="round"/></svg>

<div class="a xl" style="left:81px;">05-19 13:00</div>
<div class="a xl" style="left:256px;">05-20 04:00</div>
<div class="a xl" style="left:431px;">05-20 20:00</div>
<div class="a xl" style="left:606px;">05-21 12:00</div>

<div class="a" style="left:10px;top:915px;width:700px;height:51px;border:1px solid #e6e6e6;"></div>
<div class="a" style="left:14.5px;top:926px;width:98.5px;height:33px;background:#f3f3f3;"></div>
<div class="a mt" style="left:30px;">MACD</div>
<div class="a mt" style="left:150px;">KDJ</div>
<div class="a mt" style="left:261px;">RSI</div>
<div class="a mt" style="left:364px;">ADX</div>
<div class="a mt" style="left:474px;">ATR</div>
<svg class="a" style="left:660px;top:925px" width="32" height="32" viewBox="0 0 32 32">
  <circle cx="16" cy="16" r="8.6" fill="none" stroke="#50566a" stroke-width="2.9"/>
  <g stroke="#50566a" stroke-width="3.1" stroke-linecap="round"><line x1="16.00" y1="7.00" x2="16.00" y2="3.70"/><line x1="22.36" y1="9.64" x2="24.70" y2="7.30"/><line x1="25.00" y1="16.00" x2="28.30" y2="16.00"/><line x1="22.36" y1="22.36" x2="24.70" y2="24.70"/><line x1="16.00" y1="25.00" x2="16.00" y2="28.30"/><line x1="9.64" y1="22.36" x2="7.30" y2="24.70"/><line x1="7.00" y1="16.00" x2="3.70" y2="16.00"/><line x1="9.64" y1="9.64" x2="7.30" y2="7.30"/></g>
</svg>
<div class="a" style="left:20px;top:966.8px;font-size:19px;color:#808080;">4.79</div>
<div class="a" style="left:19px;top:1104px;font-size:19.5px;color:#808080;">-4.79</div>
<div class="a" style="left:566px;top:966.5px;font-size:18px;color:#555;background:#fff;padding:3.5px 2px 3px 2px;">MACD(12,26,9)</div>

<div class="a" style="left:0;top:1122px;width:720px;height:121px;background:#f5f5f5;"></div>
<div class="btn" style="left:70px;width:192px;background:#10b77b;">买跌</div>
<div class="btn" style="left:302px;width:192px;background:#f26464;">买涨</div>
<div class="btn" style="left:536px;width:153px;background:#fbfbfb;border:1.5px solid #b9b9b9;color:#888;line-height:58px;">挂单</div>
<svg class="a" style="left:540px;top:1160px" width="180" height="83" viewBox="540 1160 180 83">
  <defs><radialGradient id="lg" cx="0.5" cy="0.45" r="0.55"><stop offset="0" stop-color="#f5521f"/><stop offset="0.8" stop-color="#e8401c"/><stop offset="1" stop-color="#d2301a"/></radialGradient></defs>
  <circle cx="585.6" cy="1193.2" r="22.3" fill="url(#lg)"/>
  <path d="M574,1192 C571,1186 575,1181 580,1181.5 C582,1178.5 588,1178.5 590,1181.5 C595,1181 599,1185 598,1190 C598.5,1198 592,1205 584,1208.5 C581,1210 578,1211 575.5,1211.5 C582,1207 586,1203 588.5,1199 C585,1201 578,1199.5 574,1192 Z" fill="#f7c64e"/>
  <path d="M584,1192.5 C586,1189.5 590,1190 590.5,1193.5 C591,1197 588,1200.5 584.5,1202.5" fill="none" stroke="#e4421c" stroke-width="2.6" stroke-linecap="round"/>
  <text x="611.5" y="1200.5" font-family="Noto Sans CJK SC,sans-serif" font-weight="bold" font-size="31" fill="#a0a0a0" letter-spacing="1.5">单金网</text>
  <text x="615.5" y="1213.8" font-family="Liberation Sans,sans-serif" font-size="8.6" fill="#a8a8a8" letter-spacing="1.2">CNGOLD.COM.CN</text>
  <text x="566.5" y="1229.3" font-family="Noto Sans CJK SC,sans-serif" font-size="10.5" fill="#9a9a9a" letter-spacing="10.4">中文财经新媒体</text>
</svg>
</body>
</html>
